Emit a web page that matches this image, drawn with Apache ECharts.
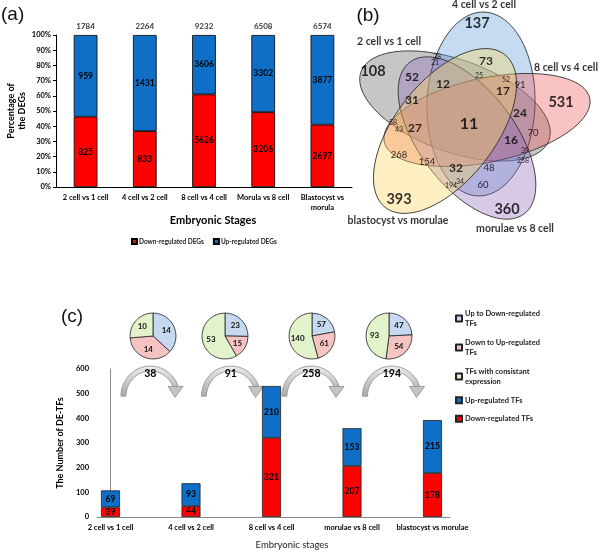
<!DOCTYPE html>
<html><head><meta charset="utf-8">
<script src="https://cdn.jsdelivr.net/npm/echarts@6/dist/echarts.min.js"></script>
<style>html,body{margin:0;padding:0;background:#fff}#c{width:600px;height:552px}</style>
</head><body><div id="c"></div>
<script>
// ---------- data: panel (a) ----------
const stagesA = ['2 cell vs 1 cell', '4 cell vs 2 cell', '8 cell vs 4 cell', 'Morula vs 8 cell', 'Blastocyst vs\nmorula'];
const downDEGs = [825, 833, 5626, 3206, 2697];
const upDEGs = [959, 1431, 3606, 3302, 3877];

// ---------- data: panel (c) ----------
const stagesC = ['2 cell vs 1 cell', '4 cell vs 2 cell', '8 cell vs 4 cell', 'morulae vs 8 cell', 'blastocyst vs morulae'];
const downTFs = [39, 44, 321, 207, 178];
const upTFs = [69, 93, 210, 153, 215];
const pieNames = ['Up to Down-regulated TFs', 'Down to Up-regulated TFs', 'TFs with consistant expression'];
const upToDownTFs = [14, 23, 57, 47];
const downToUpTFs = [14, 15, 61, 54];
const consistentTFs = [10, 53, 140, 93];

// ---------- data: panel (b) ----------
const vennSets = ['2 cell vs 1 cell', '4 cell vs 2 cell', '8 cell vs 4 cell', 'morulae vs 8 cell', 'blastocyst vs morulae'];
const vennCounts = [108, 137, 531, 360, 393, 11, 52, 12, 73, 31, 27, 17, 24, 16, 32, 268, 154, 91, 70, 48, 60, 38, 21, 25, 52, 58, 43, 39, 258, 194, 34];

// ---------- layout (positions / sizes / styles) ----------
const F = 'Lato, "Open Sans", sans-serif';
const RED = '#FF0000', BLUE = '#0F6FC6';
const PIE_COL = ['#C6D9F1', '#F6C3C3', '#E2F2CB'];
const pieCenters = [[153, 336], [225, 336], [312, 336], [389, 336]];
// ellipse layout in venn-grid units: cx, cy, a, b, rotation(deg), fill
const vennEllipses = [
  [455, 106, 100, 46, 20, 'rgba(120,120,120,0.42)'],
  [481, 104, 92, 54, -88, 'rgba(100,160,220,0.38)'],
  [487, 120, 105, 42, -12, 'rgba(240,80,80,0.34)'],
  [467, 138, 95, 48, 53, 'rgba(140,100,185,0.34)'],
  [445, 131, 97, 50, -52, 'rgba(250,212,95,0.38)']
];
const vennLabelPos = [
  [373, 71, 'l'], [477, 23, 'l'], [561, 102, 'l'], [507, 209, 'l'], [399, 199, 'l'],
  [469, 124, 'xl'],
  [412, 77, 'm'], [443, 84, 'm'], [486, 61, 'm'], [412, 100, 'm'], [415, 128, 'm'],
  [503, 91, 'm'], [520, 113, 'm'], [511, 140, 'm'], [456, 168, 'm'],
  [399, 155, 's'], [427, 162, 's'], [520, 85, 's'], [533, 133, 's'], [489, 168, 's'], [483, 185, 's'],
  [437, 57, 'xs'], [435, 63, 'xs'], [479, 76, 'xs'], [506, 80, 'xs'], [393, 123, 'xs'], [399, 130, 'xs'],
  [525, 151, 'xs'], [523, 161, 'xs'], [451, 186, 'xs'], [460, 182, 'xs']
];
const sizeStyle = {
  xl: {fontSize: 16, fontWeight: 'bold'}, l: {fontSize: 14.5, fontWeight: 'bold'},
  m: {fontSize: 12, fontWeight: 'bold'}, s: {fontSize: 9.5, fontWeight: 'normal'}, xs: {fontSize: 7, fontWeight: 'normal'}
};
const vennSetLabelPos = [[389, 42], [484, 5], [566, 68], [515, 229], [398, 221]];

const totalsA = downDEGs.map((d, i) => d + upDEGs[i]);
const pctDown = downDEGs.map((d, i) => d / totalsA[i] * 100);
const pctUp = upDEGs.map((u, i) => u / totalsA[i] * 100);
const pieTotals = upToDownTFs.map((v, i) => v + downToUpTFs[i] + consistentTFs[i]);

const legendText = {
  'Up to Down-regulated TFs': 'Up to Down-regulated\nTFs',
  'Down to Up-regulated TFs': 'Down to Up-regulated\nTFs',
  'TFs with consistant expression': 'TFs with consistant\nexpression'
};

const chart = echarts.init(document.getElementById('c'), null, {renderer: 'canvas'});

const lbl = (fs) => ({fontFamily: F, fontWeight: 'bold', fontSize: fs, color: '#000'});

function renderEllipse(params, api) {
  const e = vennEllipses[params.dataIndex];
  const rot = e[4] * Math.PI / 180, c = Math.cos(rot), s = Math.sin(rot);
  const pts = [];
  for (let k = 0; k < 96; k++) {
    const t = k / 96 * Math.PI * 2;
    const lx = e[2] * Math.cos(t), ly = e[3] * Math.sin(t);
    pts.push(api.coord([e[0] + lx * c - ly * s, e[1] + lx * s + ly * c]));
  }
  return {type: 'polygon', shape: {points: pts}, style: {fill: e[5], stroke: '#2f2f2f', lineWidth: 0.9}};
}

function renderArrow(params, api) {
  const i = api.value(0);
  const L = api.coord([i + 0.13, 0])[0];
  const R = api.coord([i + 0.86, 0])[0];
  const yb = api.coord([0, 490])[1];
  const yt = api.coord([0, 612])[1];
  const cx = (L + R) / 2, rx = (R - L) / 2, ry = yb - yt, t = 5;
  const endA = 0.36;
  const pts = [];
  const N = 40;
  for (let k = 0; k <= N; k++) {
    const a = Math.PI - (Math.PI - endA) * k / N;
    pts.push([cx + rx * Math.cos(a), yb - ry * Math.sin(a)]);
  }
  for (let k = N; k >= 0; k--) {
    const a = Math.PI - (Math.PI - endA) * k / N;
    pts.push([cx + (rx - t) * Math.cos(a), yb - (ry - t) * Math.sin(a)]);
  }
  const ax = cx + (rx - t / 2) * Math.cos(endA);
  const ay = yb - (ry - t / 2) * Math.sin(endA);
  const head = [[ax - 7.5, ay], [ax + 7.5, ay], [ax - 0.5, ay + 11]];
  const grad = new echarts.graphic.LinearGradient(0, 0, 0, 1, [{offset: 0, color: '#EDEDED'}, {offset: 1, color: '#A9A9A9'}]);
  return {
    type: 'group',
    children: [
      {type: 'polygon', shape: {points: pts}, style: {fill: grad, stroke: '#8C8C8C', lineWidth: 0.8}},
      {type: 'polygon', shape: {points: head}, style: {fill: '#C4C4C4', stroke: '#8C8C8C', lineWidth: 0.8}},
      {type: 'text', x: cx, y: yt + 8, style: {text: String(pieTotals[i]), align: 'center', verticalAlign: 'middle',
        fontFamily: F, fontWeight: 'bold', fontSize: 10.5, fill: '#000'}}
    ]
  };
}

const pieSeries = pieCenters.map((ctr, i) => ({
  type: 'pie', center: ctr, radius: 23, startAngle: 90, clockwise: true, silent: true, animation: false,
  label: {show: true, position: 'inside', formatter: '{c}', fontFamily: F, fontWeight: 'bold', fontSize: 8, color: '#111'},
  labelLine: {show: false},
  itemStyle: {borderColor: '#222', borderWidth: 0.8},
  emphasis: {disabled: true},
  data: [
    {name: pieNames[0], value: upToDownTFs[i], itemStyle: {color: PIE_COL[0]}},
    {name: pieNames[1], value: downToUpTFs[i], itemStyle: {color: PIE_COL[1]}},
    {name: pieNames[2], value: consistentTFs[i], itemStyle: {color: PIE_COL[2]}}
  ]
}));

const option = {
  animation: false,
  textStyle: {fontFamily: F},
  grid: [
    {left: 56, top: 35, width: 296, height: 152},
    {left: 97, top: 369, width: 353, height: 148},
    {left: 340, top: 0, width: 260, height: 235},
    {left: 70.25, top: 369, width: 402.5, height: 148}
  ],
  xAxis: [
    {type: 'category', gridIndex: 0, data: stagesA,
      axisLine: {lineStyle: {color: '#000', width: 1}}, axisTick: {show: false},
      axisLabel: Object.assign(lbl(7.5), {margin: 6, lineHeight: 10, interval: 0})},
    {type: 'value', gridIndex: 1, min: -0.168, max: 4.217, splitLine: {show: false},
      axisLine: {show: true, lineStyle: {color: '#888', width: 1}}, axisTick: {show: false},
      axisLabel: Object.assign(lbl(7.5), {margin: 7, customValues: [0, 1, 2, 3, 4], formatter: v => stagesC[Math.round(v)]})},
    {type: 'value', gridIndex: 2, min: 340, max: 600, show: false},
    {type: 'category', gridIndex: 3, data: stagesC, show: false}
  ],
  yAxis: [
    {type: 'value', gridIndex: 0, min: 0, max: 100, interval: 10, splitLine: {show: false},
      axisLine: {show: true, lineStyle: {color: '#000'}}, axisTick: {show: true, length: 3, lineStyle: {color: '#000'}},
      axisLabel: Object.assign(lbl(7.5), {formatter: '{value}%', margin: 5}),
      name: 'Percentage of\nthe DEGs', nameLocation: 'middle', nameGap: 24, nameRotate: 90,
      nameTextStyle: {fontFamily: F, fontWeight: 'bold', fontSize: 9, color: '#000', lineHeight: 11}},
    {type: 'value', gridIndex: 1, min: 0, max: 600, interval: 100, splitLine: {show: false},
      axisLine: {show: true, lineStyle: {color: '#888'}}, axisTick: {show: false},
      axisLabel: Object.assign(lbl(7.5), {margin: 8}),
      name: 'The Number of DE-TFs', nameLocation: 'middle', nameGap: 31, nameRotate: 90,
      nameTextStyle: {fontFamily: F, fontWeight: 'bold', fontSize: 9, color: '#000'}},
    {type: 'value', gridIndex: 2, min: 0, max: 235, inverse: true, show: false},
    {type: 'value', gridIndex: 3, min: 0, max: 600, interval: 100, show: false}
  ],
  legend: [
    {data: ['Down-regulated DEGs', 'Up-regulated DEGs'], left: 126, top: 233, itemWidth: 5, itemHeight: 5, itemGap: 9,
      icon: 'rect', selectedMode: false, textStyle: {fontFamily: F, fontWeight: 'bold', fontSize: 6.5, color: '#222', padding: [0, 0, 0, -3]}},
    {data: pieNames.concat(['Up-regulated TFs', 'Down-regulated TFs']), orient: 'vertical', left: 450, top: 303,
      itemWidth: 6, itemHeight: 6, itemGap: 8, icon: 'rect', selectedMode: false,
      formatter: n => legendText[n] || n,
      textStyle: {fontFamily: F, fontWeight: 'bold', fontSize: 7.5, color: '#222', lineHeight: 10.5, padding: [0, 0, 0, -2]}}
  ],
  series: [
    {name: 'Down-regulated DEGs', type: 'bar', xAxisIndex: 0, yAxisIndex: 0, stack: 'a', barWidth: '40%', data: pctDown,
      itemStyle: {color: RED, borderColor: '#000', borderWidth: 0.8},
      label: Object.assign({show: true, position: 'inside', formatter: p => downDEGs[p.dataIndex]}, lbl(8.5))},
    {name: 'Up-regulated DEGs', type: 'bar', xAxisIndex: 0, yAxisIndex: 0, stack: 'a', barWidth: '40%', data: pctUp,
      itemStyle: {color: BLUE, borderColor: '#000', borderWidth: 0.8},
      label: Object.assign({show: true, position: 'inside', formatter: p => upDEGs[p.dataIndex]}, lbl(8.5))},
    {type: 'scatter', xAxisIndex: 0, yAxisIndex: 0, symbolSize: 0, silent: true,
      data: totalsA.map((t, i) => [i, 100]),
      label: Object.assign({show: true, position: 'top', distance: 5, formatter: p => totalsA[p.dataIndex]}, lbl(8))},
    {name: 'Down-regulated TFs', type: 'bar', xAxisIndex: 3, yAxisIndex: 3, stack: 'c', barWidth: 19,
      data: downTFs,
      itemStyle: {color: RED, borderColor: '#222', borderWidth: 0.8},
      label: Object.assign({show: true, position: 'inside'}, lbl(8.5))},
    {name: 'Up-regulated TFs', type: 'bar', xAxisIndex: 3, yAxisIndex: 3, stack: 'c', barWidth: 19,
      data: upTFs,
      itemStyle: {color: BLUE, borderColor: '#222', borderWidth: 0.8},
      label: Object.assign({show: true, position: 'inside'}, lbl(8.5))},
    {type: 'custom', xAxisIndex: 1, yAxisIndex: 1, clip: false, silent: true,
      data: pieTotals.map((t, i) => [i]), renderItem: renderArrow},
    {type: 'custom', xAxisIndex: 2, yAxisIndex: 2, clip: false, silent: true,
      data: vennEllipses.map((e, i) => [i]), renderItem: renderEllipse},
    {type: 'scatter', xAxisIndex: 2, yAxisIndex: 2, symbolSize: 0, silent: true,
      data: vennCounts.map((v, i) => ({
        value: [vennLabelPos[i][0], vennLabelPos[i][1], v],
        label: sizeStyle[vennLabelPos[i][2]]
      })),
      label: {show: true, position: 'inside', formatter: p => p.value[2], fontFamily: F, color: '#000'}},
    {type: 'scatter', xAxisIndex: 2, yAxisIndex: 2, symbolSize: 0, silent: true,
      data: vennSets.map((n, i) => ({value: [vennSetLabelPos[i][0], vennSetLabelPos[i][1]], name: n})),
      label: {show: true, position: 'inside', formatter: p => p.name, fontFamily: F, fontWeight: 'bold', fontSize: 10.5, color: '#000'}}
  ].concat(pieSeries),
  graphic: [
    {type: 'text', x: 1, y: 15, style: {text: '(a)', fontFamily: '"Liberation Sans", Arial, sans-serif', fontSize: 19, fill: '#111', verticalAlign: 'middle'}},
    {type: 'text', x: 368, y: 16, style: {text: '(b)', align: 'center', fontFamily: '"Liberation Sans", Arial, sans-serif', fontSize: 19, fill: '#111', verticalAlign: 'middle'}},
    {type: 'text', x: 72, y: 317, style: {text: '(c)', align: 'center', fontFamily: '"Liberation Sans", Arial, sans-serif', fontSize: 19, fill: '#111', verticalAlign: 'middle'}},
    {type: 'text', x: 213, y: 220, style: {text: 'Embryonic Stages', align: 'center', verticalAlign: 'middle', fontFamily: F, fontWeight: 'bold', fontSize: 11, fill: '#000'}},
    {type: 'text', x: 292, y: 545, style: {text: 'Embryonic stages', align: 'center', verticalAlign: 'middle', fontFamily: F, fontSize: 9.5, fill: '#222'}}
  ]
};
chart.setOption(option);
</script>
</body></html>
